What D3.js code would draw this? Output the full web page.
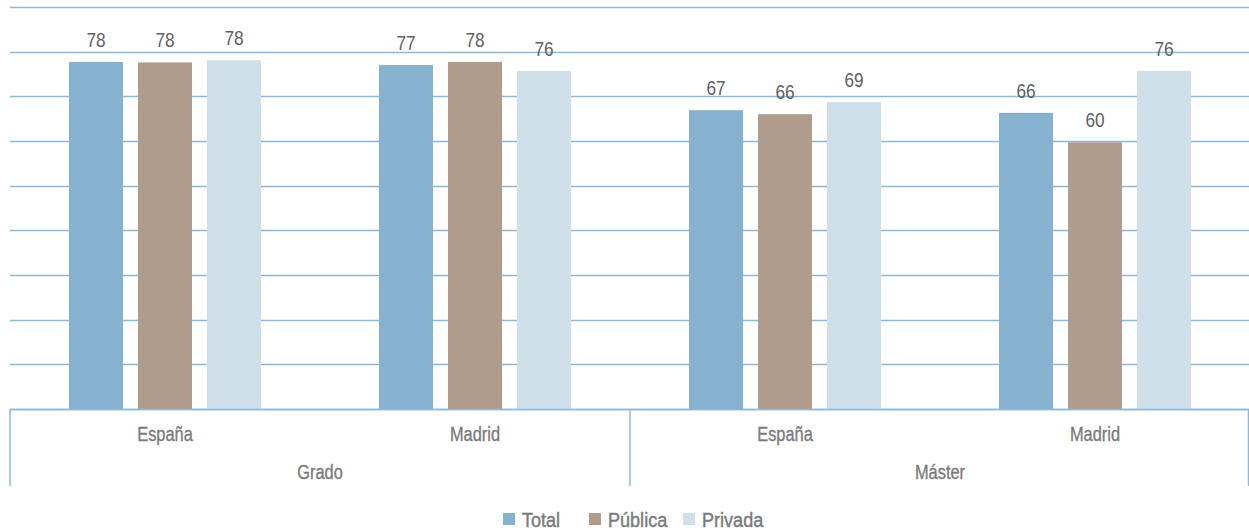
<!DOCTYPE html>
<html><head><meta charset="utf-8">
<script src="https://cdn.jsdelivr.net/npm/d3@7"></script>
<style>body{margin:0;background:#fff}svg{display:block}</style>
</head><body><svg id="c" width="1249" height="531"></svg>
<script>
const levels = ["Grado", "Máster"];
const regions = ["España", "Madrid"];
const series = ["Total", "Pública", "Privada"];
const total   = [77.7, 77.0, 66.9, 66.3];
const publica = [77.6, 77.7, 66.0, 59.7];
const privada = [78.1, 75.7, 68.7, 75.7];
const yTicks = [0,10,20,30,40,50,60,70,80,90];
const colors = ["#87b2cf", "#b09c8d", "#cfe0ea"];

(function(){
const svg = d3.select("#c");
const FONT = "'Liberation Sans',Arial,sans-serif";
const SX = 0.82;
const pLeft = 10, pRight = 1250, pTop = 7, base = 409;
const cats = [];
levels.forEach(l => regions.forEach(r => cats.push(l + "|" + r)));
const vals = [total, publica, privada];

const x0 = d3.scaleBand().domain(cats).range([pLeft, pRight]);
const x1 = d3.scaleBand().domain(series).range([0, x0.bandwidth()]).paddingInner(0.217).paddingOuter(0.855);
const y = d3.scaleLinear().domain([0, 90]).range([base, pTop]);
const xl = d3.scaleBand().domain(levels).range([pLeft, pRight]);

function txt(x, yy, s, size, fill, anchor, sx, sw) {
  const t = svg.append("text")
    .attr("transform", `translate(${x},${yy}) scale(${sx || SX},1)`)
    .attr("text-anchor", anchor || "middle")
    .attr("font-family", FONT).attr("font-size", size)
    .attr("fill", fill).text(s);
  if (sw) t.attr("stroke", fill).attr("stroke-width", sw);
  return t;
}

// gridlines
svg.append("g").selectAll("line").data(yTicks).join("line")
  .attr("x1", pLeft).attr("x2", 1249)
  .attr("y1", d => Math.round(y(d)) + 0.5).attr("y2", d => Math.round(y(d)) + 0.5)
  .attr("stroke", "#8eb9d6").attr("stroke-width", 1.5);

// bars
cats.forEach((c, ci) => {
  series.forEach((s, si) => {
    const v = vals[si][ci];
    svg.append("rect")
      .attr("x", x0(c) + x1(s)).attr("width", x1.bandwidth())
      .attr("y", y(v)).attr("height", base - y(v))
      .attr("fill", colors[si]);
    txt(x0(c) + x1(s) + x1.bandwidth() / 2, y(v) - 15, Math.round(v), 21, "#5f5f5f");
  });
});

// axis baseline
svg.append("line").attr("x1", pLeft).attr("x2", 1249).attr("y1", base + 0.5).attr("y2", base + 0.5)
  .attr("stroke", "#8eb9d6").attr("stroke-width", 1.5);
// separators
[pLeft, xl("Máster"), 1248.5].forEach(xx => {
  svg.append("line").attr("x1", xx).attr("x2", xx).attr("y1", base).attr("y2", 486)
    .attr("stroke", "#8eb9d6").attr("stroke-width", 1.5);
});

// category labels
cats.forEach(c => txt(x0(c) + x0.bandwidth() / 2, 441, c.split("|")[1], 20, "#7a7a7a", "middle", SX, 0.35));
levels.forEach(l => txt(xl(l) + xl.bandwidth() / 2, 479, l, 20, "#7a7a7a", "middle", SX, 0.35));

// legend
const legX = [503, 589, 683];
series.forEach((s, i) => {
  svg.append("rect").attr("x", legX[i]).attr("y", 513).attr("width", 12).attr("height", 12).attr("fill", colors[i]);
  txt(legX[i] + 19, 527, s, 21, "#7a7a7a", "start", 0.86, 0.45);
});
})();
</script></body></html>
